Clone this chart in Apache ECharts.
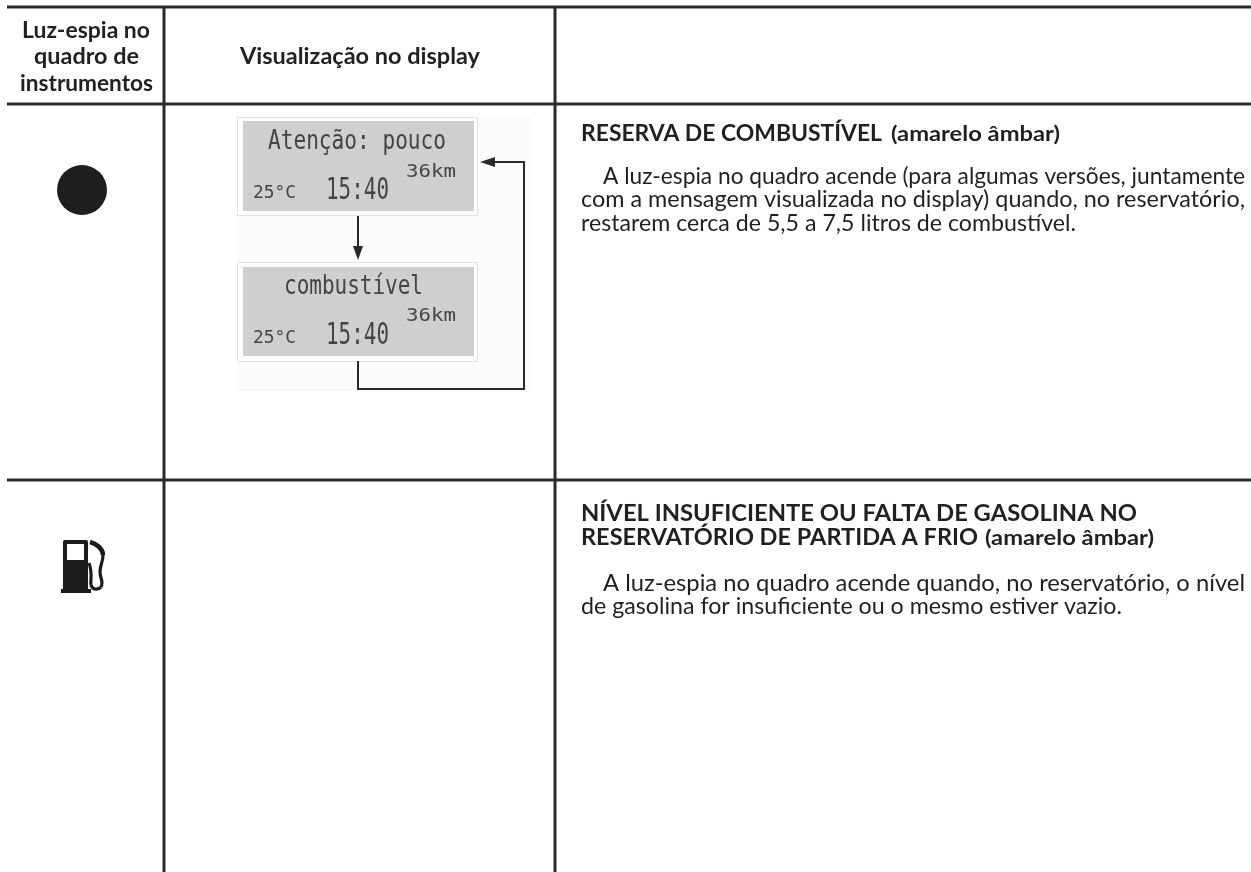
<!DOCTYPE html>
<html><head><meta charset="utf-8">
<style>html,body{margin:0;padding:0;background:#fff}#c{width:1251px;height:872px}</style>
<script src="https://cdn.jsdelivr.net/npm/echarts@6/dist/echarts.min.js"></script>
</head><body><div id="c"></div>
<script>
var headerTexts = ["Luz-espia no","quadro de","instrumentos","Visualização no display"];
var row1Texts = ["RESERVA DE COMBUSTÍVEL","(amarelo âmbar)","A luz-espia no quadro acende (para algumas versões, juntamente","com a mensagem visualizada no display) quando, no reservatório,","restarem cerca de 5,5 a 7,5 litros de combustível."];
var row2Texts = ["NÍVEL INSUFICIENTE OU FALTA DE GASOLINA NO","RESERVATÓRIO DE PARTIDA A FRIO","(amarelo âmbar)","A luz-espia no quadro acende quando, no reservatório, o nível","de gasolina for insuficiente ou o mesmo estiver vazio."];
var lcd1Message = "Atenção: pouco", lcd2Message = "combustível", lcdRange = "36km", lcdTemp = "25°C", lcdTime = "15:40";

var INK = '#231f20', FONT = 'Lato';
var ctx = document.createElement('canvas').getContext('2d');
function T(s, x0, x1, yc, size, weight, color, family){
  var w = weight || 'normal', f = family || FONT;
  ctx.font = w + ' ' + size + 'px "' + f + '"';
  var sx = x1 ? (x1 - x0) / ctx.measureText(s).width : 1;
  return {type:'text', x:x0, y:yc, scaleX:sx, silent:true,
    style:{text:s, x:0, y:0, fill:color||INK, font:w+' '+size+'px "'+f+'"', textAlign:'left', textVerticalAlign:'middle'}};
}
function L(x1,y1,x2,y2,w,c){return {type:'line',silent:true,shape:{x1:x1,y1:y1,x2:x2,y2:y2},style:{stroke:c||'#2a2a2a',lineWidth:w||3}};}
function R(x,y,w,h,fill,stroke,r){return {type:'rect',silent:true,shape:{x:x,y:y,width:w,height:h,r:r||0},style:{fill:fill,stroke:stroke||null,lineWidth:stroke?1:0}};}
function B(x1,y1,c1x,c1y,c2x,c2y,x2,y2,w){return {type:'bezierCurve',silent:true,shape:{x1:x1,y1:y1,cpx1:c1x,cpy1:c1y,cpx2:c2x,cpy2:c2y,x2:x2,y2:y2},style:{stroke:'#1d1b1c',lineWidth:w||3.2,fill:null}};}
var LCD='#444444', MONO='DejaVu Sans Mono';
var g = [
  R(237,117,294,274,'#fbfbfb'),
  L(7,7,1251,7,3), L(7,104,1251,104,3), L(7,480,1251,480,3),
  L(164,7,164,872,3), L(555,7,555,872,3),
  T(headerTexts[0],22,150,31,23,'bold'),
  T(headerTexts[1],34,139,57,23,'bold'),
  T(headerTexts[2],20,153,84,23,'bold'),
  T(headerTexts[3],240,480,57,23,'bold'),
  {type:'circle',silent:true,shape:{cx:82,cy:190,r:25},style:{fill:'#1f1d1e'}},
  // fuel pump icon
  R(63,540,25,52,'#1d1b1c',null,2), R(61,589,30,4,'#1d1b1c'), R(67,544,17,16,'#fff'),
  B(90,542,97,544,103,549,103,555,4.5), B(103,555,103,562,100,565,100,572), B(100,572,100,578,104,582,101,587), B(101,587,97,591,92,589,91,585), B(91,585,90,580,93,574,89,563),
  // displays
  R(237.5,117.5,240,98,'#fff','#e2e2e2'), R(243,121,231,90,'#cfcfcf'),
  R(237.5,262.5,240,99,'#fff','#e2e2e2'), R(243,267,231,89,'#cfcfcf'),
  T(lcd1Message,268,446,142,26,'normal',LCD,MONO),
  T(lcdRange,406,456,172,18,'normal',LCD,MONO),
  T(lcdTemp,253,296,193,18,'normal',LCD,MONO),
  T(lcdTime,326,389,191,30,'normal',LCD,MONO),
  T(lcd2Message,284,423,287,26,'normal',LCD,MONO),
  T(lcdRange,406,456,316,18,'normal',LCD,MONO),
  T(lcdTemp,253,296,338,18,'normal',LCD,MONO),
  T(lcdTime,326,389,336,30,'normal',LCD,MONO),
  // arrows
  L(358,216,358,250,2), {type:'polygon',silent:true,shape:{points:[[353,246],[363,246],[358,260]]},style:{fill:'#2a2a2a'}},
  {type:'polyline',silent:true,shape:{points:[[358,361],[358,389],[524,389],[524,162],[490,162]]},style:{stroke:'#2a2a2a',lineWidth:2,fill:null}},
  {type:'polygon',silent:true,shape:{points:[[495,157],[495,167],[480,162]]},style:{fill:'#2a2a2a'}},
  // right column
  T(row1Texts[0],581,882,134,22,'bold'),
  T(row1Texts[1],891,1060,134,21,'bold'),
  T(row1Texts[2],603,1245,177,23),
  T(row1Texts[3],581,1245,200,23),
  T(row1Texts[4],581,1076,224,23),
  T(row2Texts[0],581,1137,514,22,'bold'),
  T(row2Texts[1],581,978,538,22,'bold'),
  T(row2Texts[2],985,1154,538,21,'bold'),
  T(row2Texts[3],603,1245,584,23),
  T(row2Texts[4],581,1122,607,23)
];
var chart = echarts.init(document.getElementById('c'),null,{renderer:'canvas'});
chart.setOption({animation:false,backgroundColor:'#fff',graphic:{elements:g}});
</script></body></html>
